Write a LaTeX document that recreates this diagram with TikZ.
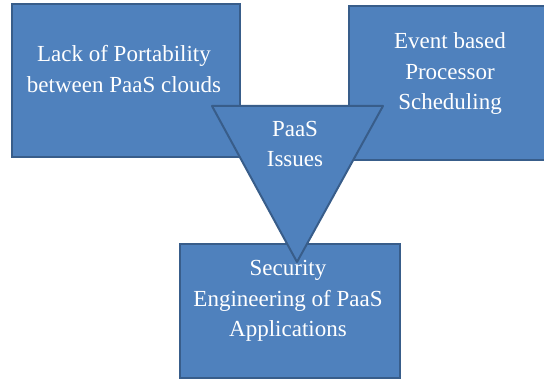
\documentclass[tikz,border=0pt]{standalone}
\usepackage{fontspec}
\setmainfont{Liberation Serif}
\definecolor{boxblue}{HTML}{4F81BD}
\definecolor{edgeblue}{HTML}{385D8A}

\begin{document}
\begin{tikzpicture}[x=1pt, y=-1pt,
        box/.style = {draw=edgeblue, fill=boxblue, line width=2pt, inner sep=0pt},
        tri/.style = {draw=edgeblue, fill=boxblue, line width=2pt, line join=round},
        txt/.style = {text=white, align=center, font=\fontsize{23}{30.5}\selectfont}]
        \useasboundingbox (0,0) rectangle (544,379);

        \node[box, minimum width=228pt, minimum height=153pt] (lack) at (126,80.5) {};
        \node[box, minimum width=202pt, minimum height=154pt] (event) at (450,83) {};
        \node[box, minimum width=220pt, minimum height=134pt] (security) at (290,311) {};

        % the issues triangle lies over the boxes
        \coordinate (tl) at (212,106);
        \coordinate (tr) at (383,106);
        \coordinate (tip) at (297,262);
        \draw[tri] (tl) -- (tr) -- (tip) -- cycle;

        \node[txt] (lacktext) at (124,69) {Lack of Portability\\between PaaS clouds};
        \node[txt] (eventtext) at (450,74) {Event based\\Processor\\Scheduling};
        \node[txt] (issues) at (295,144) {PaaS\\Issues};
        \node[txt] (securitytext) at (288,301) {Security\\Engineering of PaaS\\Applications};
    \end{tikzpicture}
\end{document}
